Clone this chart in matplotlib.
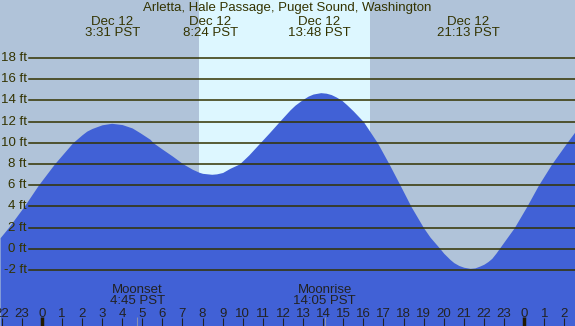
import matplotlib
matplotlib.use("Agg")
import matplotlib.pyplot as plt

plt.rcParams["font.family"] = ["Liberation Sans", "DejaVu Sans"]

# Tide heights (ft), time in hours from midnight Dec 12
times = [-2.07, -1.66, -0.88, -0.17, 0.63, 1.54, 2.0, 2.24, 2.5, 3.0, 3.48, 4.0, 4.5, 4.89,
         5.39, 5.55, 6.0, 6.5, 7.04, 7.5, 7.83, 8.0, 8.46, 8.7, 9.0, 9.37, 9.83, 10.3, 10.86,
         11.3, 11.82, 12.35, 12.6, 12.85, 13.0, 13.25, 13.5, 13.88, 14.15, 14.4, 14.65, 14.93,
         15.17, 15.5, 16.0, 16.35, 16.7, 17.28, 17.83, 18.37, 18.99, 19.32, 19.82, 20.0,
         20.31, 20.5, 20.75, 21.0, 21.31, 21.55, 21.8, 22.0, 22.2, 22.39, 22.6, 22.75,
         23.51, 24.13, 24.71, 25.37, 26.12, 26.53]
heights = [1.05, 2.0, 4.0, 6.0, 8.0, 10.0, 10.75, 11.1, 11.35, 11.7, 11.84, 11.72, 11.4, 10.95,
           10.33, 10.0, 9.4, 8.75, 8.0, 7.5, 7.22, 7.12, 7.03, 7.07, 7.2, 7.6, 8.0, 8.85, 10.0,
           10.9, 12.0, 13.1, 13.55, 13.9, 14.1, 14.4, 14.6, 14.73, 14.68, 14.55, 14.32, 14.0,
           13.6, 13.0, 12.0, 11.0, 10.0, 8.0, 6.0, 4.0, 2.0, 1.1, 0.0, -0.42,
           -1.0, -1.3, -1.57, -1.74, -1.84, -1.8, -1.62, -1.45, -1.2, -0.9, -0.4, 0.0,
           2.0, 4.0, 6.0, 8.0, 10.0, 11.05]

# tide extremes shown at the top
extreme_times = [3 + 31/60, 8 + 24/60, 13 + 48/60, 21 + 13/60]
extreme_labels = ["3:31 PST", "8:24 PST", "13:48 PST", "21:13 PST"]

# moon events shown at the bottom
moon_times = [4 + 45/60, 14 + 5/60]
moon_names = ["Moonset", "Moonrise"]
moon_labels = ["4:45 PST", "14:05 PST"]

sunrise = 7 + 50/60
sunset = 16 + 20/60

levels = [-2, 0, 2, 4, 6, 8, 10, 12, 14, 16, 18]
hours = list(range(-2, 27))

x_min, x_max = -2.075, 26.53
y_min, y_max = -7.28, 23.47

night = "#b0c3d9"
day = "#ddf7ff"
water = "#4161d6"
ink = "#333300"

fig = plt.figure(figsize=(5.75, 3.26), dpi=100)
ax = fig.add_axes([0, 0, 1, 1])
ax.set_xlim(x_min, x_max)
ax.set_ylim(y_min, y_max)
ax.axis("off")

ax.axvspan(x_min, sunrise, color=night, lw=0)
ax.axvspan(sunrise, sunset, color=day, lw=0)
ax.axvspan(sunset, x_max, color=night, lw=0)

ax.fill_between(times, heights, y_min, color=water, lw=0, zorder=2)

for lv in levels:
    ax.axhline(lv, xmin=29/575, xmax=1, color=ink, lw=1.1, zorder=3)
    ax.text(27/575, lv, f"{lv} ft", transform=ax.get_yaxis_transform(),
            ha="right", va="center", fontsize=9.5, color=ink, zorder=4)

def fy(px):
    return 1 - px / 326

xt = ax.get_xaxis_transform()
ax.text(0.5, fy(11), "Arletta, Hale Passage, Puget Sound, Washington", transform=ax.transAxes,
        ha="center", va="baseline", fontsize=9.5, color=ink)
for t, lab in zip(extreme_times, extreme_labels):
    ax.text(t, fy(25), "Dec 12", transform=xt, ha="center", va="baseline", fontsize=9.5, color=ink)
    ax.text(t, fy(36), lab, transform=xt, ha="center", va="baseline", fontsize=9.5, color=ink)

for t, name, lab in zip(moon_times, moon_names, moon_labels):
    ax.text(t, fy(292.7), name, transform=xt, ha="center", va="baseline", fontsize=9.5,
            color="#222222", zorder=5)
    ax.text(t, fy(304.3), lab, transform=xt, ha="center", va="baseline", fontsize=9.5,
            color="#222222", zorder=5)
    ax.vlines(t, 0, fy(317), transform=xt, color="#8890b0", lw=0.8, zorder=5)

for h in hours:
    ax.text(h, fy(316.7), str(h % 24), transform=xt, ha="center", va="baseline",
            fontsize=9.5, color="#222222", zorder=5)
    if h % 24 == 0:
        ax.vlines(h, 0, fy(317), transform=xt, color="#221a00", lw=2.5, zorder=5)
    else:
        ax.vlines(h, 0, fy(318), transform=xt, color="#222222", lw=0.8, zorder=5)

fig.savefig("out.png", dpi=100)
